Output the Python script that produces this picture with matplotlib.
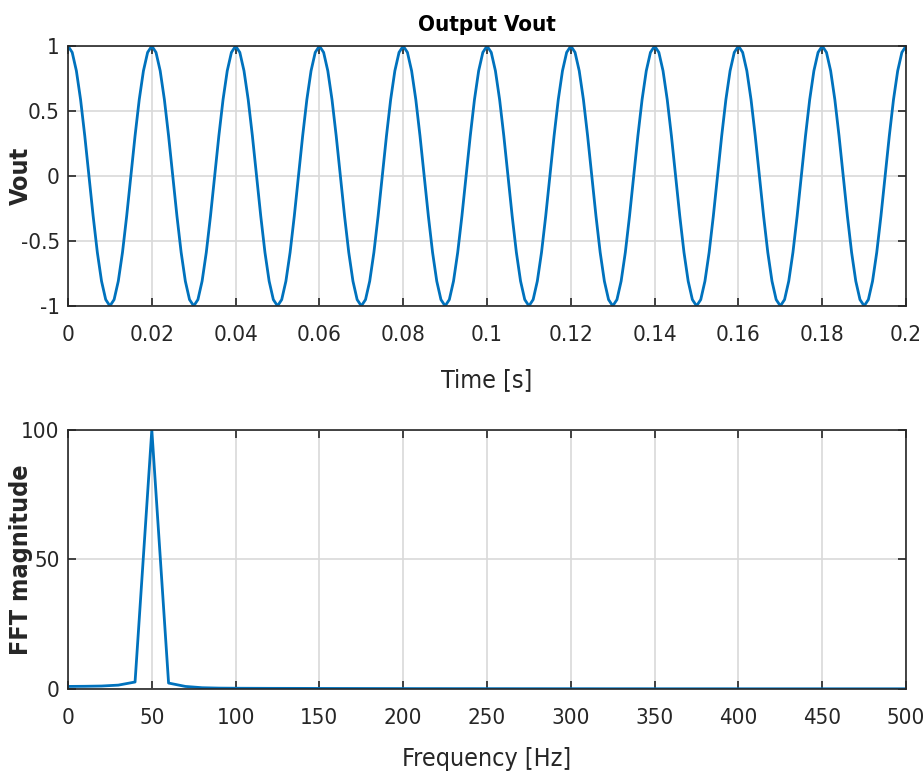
#!/usr/bin/env python3
# -*- coding: utf-8 -*-
"""
Output voltage waveform and its FFT magnitude spectrum.
"""
import numpy as np
import matplotlib.pyplot as plt

plt.rcParams['font.family'] = ['DejaVu Sans']
plt.rcParams['font.stretch'] = 'condensed'

voutPeriod = [1.0, 0.951, 0.809, 0.588, 0.309, 0.0, -0.309, -0.588, -0.809, -0.951,
              -1.0, -0.951, -0.809, -0.588, -0.309, 0.0, 0.309, 0.588, 0.809, 0.951]
nPeriods = 10
vout = voutPeriod * nPeriods + [1.0]
timeS = np.linspace(0, 0.2, len(vout))

# FFT magnitude, 10 Hz bins from 0 to 500 Hz
freqHz = list(range(0, 510, 10))
fftMag = [1.0, 1.05, 1.15, 1.5, 2.7, 100.0, 2.3, 1.0, 0.5, 0.35,
          0.3, 0.28, 0.26, 0.25, 0.24, 0.22, 0.21, 0.2, 0.19, 0.18,
          0.17, 0.16, 0.16, 0.15, 0.15, 0.14, 0.14, 0.13, 0.13, 0.12,
          0.12, 0.12, 0.11, 0.11, 0.11, 0.1, 0.1, 0.1, 0.1, 0.1,
          0.09, 0.09, 0.09, 0.09, 0.09, 0.09, 0.09, 0.09, 0.09, 0.09, 0.09]

lineColor = '#0072BD'


def styleAxes(ax):
    ax.grid(True, color='#d9d9d9', linewidth=1.2)
    ax.set_axisbelow(True)
    ax.tick_params(direction='in', top=True, right=True, length=6, width=1.2,
                   colors='#262626', labelsize=16)
    ax.tick_params(axis='x', pad=14)
    ax.tick_params(axis='y', pad=6)
    for sp in ax.spines.values():
        sp.set_color('#262626')
        sp.set_linewidth(1.2)


fig = plt.figure(figsize=(9.24, 7.76), dpi=100)

# top: time signal
ax1 = fig.add_axes([0.0736, 0.6057, 0.907, 0.335])
ax1.plot(timeS, vout, color=lineColor, linewidth=2)
ax1.set_xlim(0, 0.2)
ax1.set_ylim(-1, 1)
ax1.set_xticks(np.arange(0, 0.201, 0.02))
ax1.set_xticklabels(['0', '0.02', '0.04', '0.06', '0.08', '0.1', '0.12',
                     '0.14', '0.16', '0.18', '0.2'])
ax1.set_yticks([-1, -0.5, 0, 0.5, 1])
ax1.set_yticklabels(['-1', '-0.5', '0', '0.5', '1'])
styleAxes(ax1)
ax1.set_xlabel('Time [s]', fontsize=18, color='#262626', labelpad=16)
ax1.set_ylabel('Vout', fontsize=18, fontweight='bold', color='#262626')
ax1.yaxis.set_label_coords(-0.042, 0.5)
ax1.set_title('Output Vout', fontsize=16, fontweight='bold', color='black', pad=11)

# bottom: FFT
ax2 = fig.add_axes([0.0736, 0.1121, 0.907, 0.3338])
ax2.plot(freqHz, fftMag, color=lineColor, linewidth=2)
ax2.set_xlim(0, 500)
ax2.set_ylim(0, 100)
ax2.set_xticks(np.arange(0, 501, 50))
ax2.set_yticks([0, 50, 100])
styleAxes(ax2)
ax2.set_xlabel('Frequency [Hz]', fontsize=18, color='#262626', labelpad=13)
ax2.set_ylabel('FFT magnitude', fontsize=18, fontweight='bold', color='#262626')
ax2.yaxis.set_label_coords(-0.042, 0.5)

plt.savefig('out.png', dpi=100)
